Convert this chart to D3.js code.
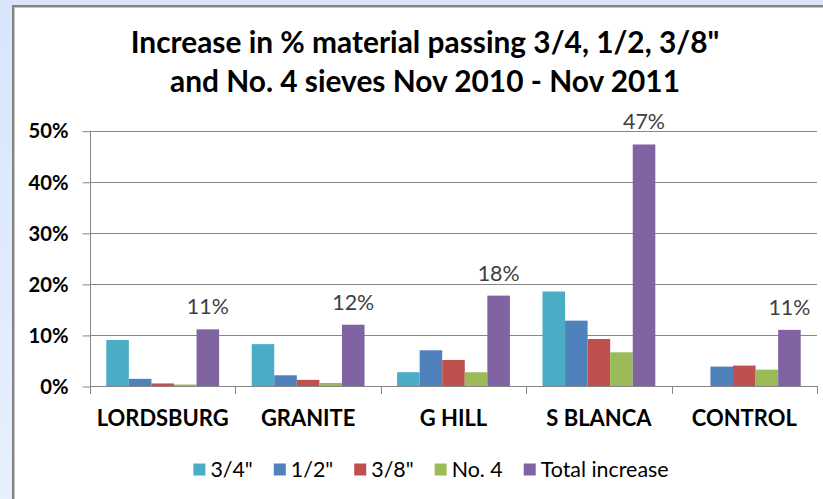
<!DOCTYPE html>
<html><head><meta charset="utf-8">
<script src="https://cdn.jsdelivr.net/npm/d3@7"></script>
<style>html,body{margin:0;padding:0;background:#dce8fb;overflow:hidden;} svg{display:block;}</style>
</head><body><svg id="c" width="823" height="499"></svg>
<script>
const categories = ["LORDSBURG", "GRANITE", "G HILL", "S BLANCA", "CONTROL"];
const seriesNames = ['3/4"', '1/2"', '3/8"', "No. 4", "Total increase"];
const s34    = [0.090, 0.082, 0.027, 0.185, 0.000];
const s12    = [0.014, 0.021, 0.070, 0.128, 0.038];
const s38    = [0.005, 0.012, 0.051, 0.092, 0.040];
const sNo4   = [0.003, 0.006, 0.027, 0.066, 0.032];
const sTotal = [0.111, 0.120, 0.177, 0.473, 0.110];
const totalLabels = ["11%", "12%", "18%", "47%", "11%"];
const yTicks = [0, 0.1, 0.2, 0.3, 0.4, 0.5];
const titleLines = ['Increase in % material passing 3/4, 1/2, 3/8"', "and No. 4 sieves Nov 2010 - Nov 2011"];
const colors = ["#4BACC6", "#4F81BD", "#C0504D", "#9BBB59", "#8064A2"];

const seriesValues = [s34, s12, s38, sNo4, sTotal];
const FONT = "Lato, 'Liberation Sans', Arial, sans-serif";
const svg = d3.select("#c");

// background
const defs = svg.append("defs");
const grad = defs.append("linearGradient").attr("id", "bg").attr("x1", 0).attr("y1", 0).attr("x2", 0).attr("y2", 1);
grad.append("stop").attr("offset", "0%").attr("stop-color", "#d8e5fb");
grad.append("stop").attr("offset", "100%").attr("stop-color", "#e6f0fe");
svg.append("rect").attr("width", 823).attr("height", 499).attr("fill", "url(#bg)");
svg.append("rect").attr("x", 12).attr("y", 5).attr("width", 830).attr("height", 510).attr("fill", "#ffffff");
svg.append("rect").attr("x", 12).attr("y", 5).attr("width", 830).attr("height", 2).attr("fill", "#848484");
svg.append("rect").attr("x", 12).attr("y", 5).attr("width", 2).attr("height", 510).attr("fill", "#848484");
svg.append("rect").attr("x", 14).attr("y", 7).attr("width", 830).attr("height", 1).attr("fill", "#c4c4c4");
svg.append("rect").attr("x", 14).attr("y", 7).attr("width", 1).attr("height", 510).attr("fill", "#c4c4c4");

function fitSize(textSel, target) {
  const w = textSel.node().getComputedTextLength();
  const fs = parseFloat(textSel.attr("font-size"));
  return fs * target / w;
}

// title
const t1 = svg.append("text").attr("x", 425).attr("y", 53).attr("text-anchor", "middle")
  .attr("font-family", FONT).attr("font-weight", "bold").attr("font-size", 24).attr("fill", "#000").text(titleLines[0]);
const tfs = fitSize(t1, 589);
t1.attr("font-size", tfs);
svg.append("text").attr("x", 425).attr("y", 92).attr("text-anchor", "middle")
  .attr("font-family", FONT).attr("font-weight", "bold").attr("font-size", tfs).attr("fill", "#000").text(titleLines[1]);

// scales
const x0 = 90, x1 = 817, yBase = 386, yTop = 130.7;
const x = d3.scaleBand().domain(categories).range([x0, x1]).paddingInner(0).paddingOuter(0);
const bw = x.bandwidth();
const xs = d3.scaleBand().domain(d3.range(seriesNames.length)).range([bw * 0.112, bw * 0.888]).padding(0);
const y = d3.scaleLinear().domain([0, 0.5]).range([yBase, yTop]);

// gridlines
svg.append("g").selectAll("line").data(yTicks.filter(d => d > 0)).join("line")
  .attr("x1", x0).attr("x2", x1).attr("y1", d => Math.round(y(d)) + 0.5).attr("y2", d => Math.round(y(d)) + 0.5)
  .attr("stroke", "#878787").attr("stroke-width", 1);

// bars
const bars = svg.append("g");
seriesValues.forEach((vals, si) => {
  bars.selectAll(null).data(vals).join("rect")
    .attr("x", (d, i) => x(categories[i]) + xs(si))
    .attr("width", xs.bandwidth())
    .attr("y", d => y(d))
    .attr("height", d => yBase - y(d))
    .attr("fill", colors[si]);
});

// y axis
const yAxis = svg.append("g").attr("transform", `translate(${x0 + 0.5},0)`)
  .call(d3.axisLeft(y).tickValues(yTicks).tickFormat(d3.format(".0%")).tickSize(8).tickPadding(14).tickSizeOuter(0));
yAxis.select(".domain").remove();
yAxis.selectAll(".tick line").attr("stroke", "#878787").attr("transform", "translate(0,0.5)");
yAxis.selectAll(".tick text").attr("font-family", FONT).attr("font-weight", "bold").attr("fill", "#000").attr("font-size", 18);
const yfs = fitSize(yAxis.select(".tick:last-of-type text"), 40);
yAxis.selectAll(".tick text").attr("font-size", yfs).attr("dy", "0.36em");
svg.append("line").attr("x1", x0 + 0.5).attr("x2", x0 + 0.5).attr("y1", yTop).attr("y2", yBase + 8)
  .attr("stroke", "#878787");
// x axis baseline
svg.append("line").attr("x1", x0).attr("x2", x1).attr("y1", yBase + 0.5).attr("y2", yBase + 0.5).attr("stroke", "#878787");

// x axis labels
const xAxis = svg.append("g").attr("transform", `translate(0,${yBase})`)
  .call(d3.axisBottom(x).tickSize(0).tickPadding(40));
xAxis.select(".domain").remove();
xAxis.selectAll(".tick text").attr("font-family", FONT).attr("font-weight", "bold").attr("fill", "#000")
  .attr("font-size", 20).attr("dy", 0).attr("y", 40);
const xfs = fitSize(xAxis.select(".tick text"), 132);
xAxis.selectAll(".tick text").attr("font-size", xfs);
// category boundary ticks
const bounds = categories.map(c => x(c)).concat([x1]);
svg.append("g").selectAll("line").data(bounds).join("line")
  .attr("x1", d => Math.round(d) + 0.5).attr("x2", d => Math.round(d) + 0.5)
  .attr("y1", yBase).attr("y2", yBase + 8).attr("stroke", "#878787");

// data labels
const dl = svg.append("g").selectAll("text").data(sTotal).join("text")
  .attr("x", (d, i) => x(categories[i]) + xs(4) + xs.bandwidth() / 2)
  .attr("y", d => y(d) - 15)
  .attr("text-anchor", "middle").attr("font-family", FONT).attr("fill", "#404040").attr("font-size", 20)
  .text((d, i) => totalLabels[i]);
const dfs = fitSize(d3.select(dl.nodes()[0]), 42);
dl.attr("font-size", dfs);

// legend
const leg = svg.append("g");
const items = leg.selectAll("g").data(seriesNames).join("g");
items.append("rect").attr("width", 12).attr("height", 12).attr("y", -6).attr("fill", (d, i) => colors[i]);
const ltexts = items.append("text").attr("x", 17).attr("y", 0).attr("dy", "0.36em")
  .attr("font-family", FONT).attr("fill", "#000").attr("font-size", 20).text(d => d);
const lfs = fitSize(d3.select(ltexts.nodes()[4]), 128);
ltexts.attr("font-size", lfs);
let cx = 0;
const offs = [];
ltexts.each(function () { offs.push(cx); cx += 17 + this.getComputedTextLength() + 21; });
const totalW = cx - 21;
const lx = 431 - totalW / 2;
items.attr("transform", (d, i) => `translate(${lx + offs[i]},469.5)`);
</script></body></html>
